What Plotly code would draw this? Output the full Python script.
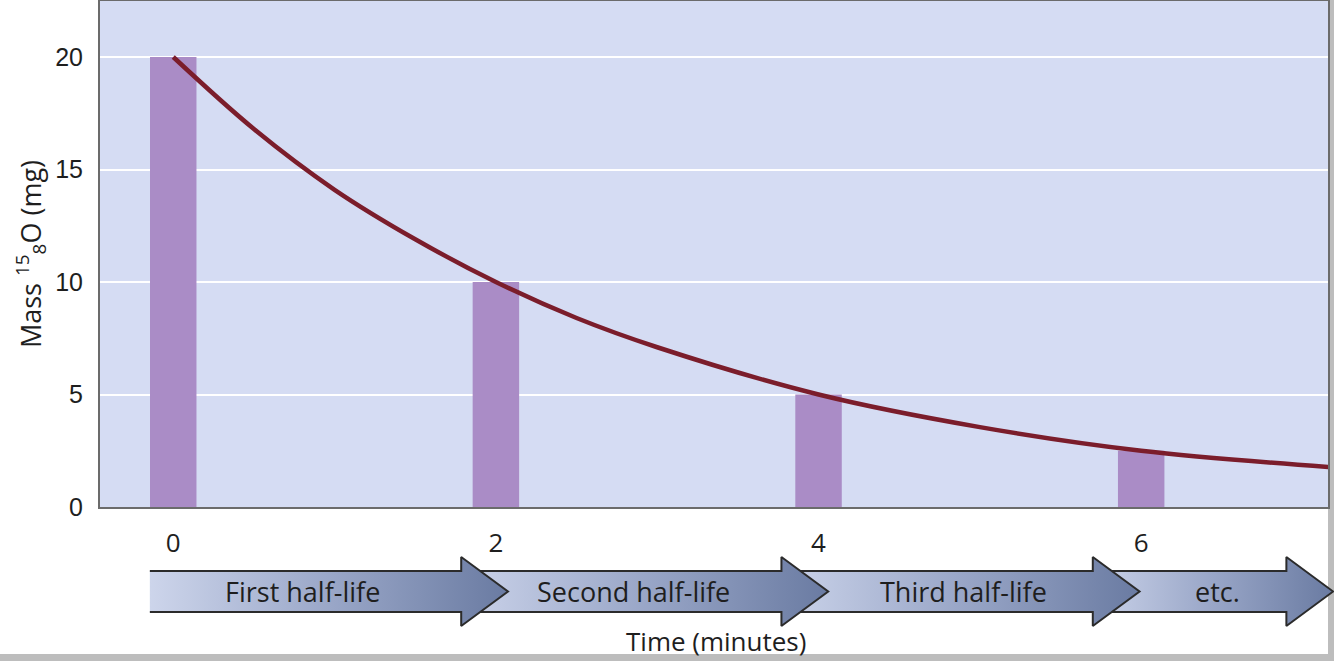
import plotly.graph_objects as go

# ---- data ----
bar_times = [0, 2, 4, 6]
bar_mass = [20, 10, 5, 2.5]
curve_times = [0, 0.5, 1, 1.5, 2, 2.5, 3, 4, 5, 6, 7.16]
curve_mass = [20, 16.8, 14.1, 11.9, 10, 8.4, 7.1, 5.0, 3.55, 2.5, 1.78]
y_ticks = [0, 5, 10, 15, 20]
x_ticks = [0, 2, 4, 6]
arrow_labels = ["First half-life", "Second half-life", "Third half-life", "etc."]
arrow_starts = [-0.145, 1.78, 3.76, 5.69]
arrow_tips = [2.075, 4.06, 5.99, 7.19]
label_centers = [0.8, 2.85, 4.9, 6.47]

W, H = 1334, 661
PLOT_L, PLOT_R, PLOT_T, PLOT_B = 100, 1328, 1, 507
XMIN, XMAX = -0.454, 7.158
X2MAX = XMIN + (XMAX - XMIN) * (W - PLOT_L) / (PLOT_R - PLOT_L)
TXT = "#1e1e1e"
FONT = "Open Sans"

fig = go.Figure()

# main plot background
fig.add_shape(type="rect", xref="x domain", yref="y domain", x0=0, x1=1, y0=0, y1=1,
              fillcolor="#d5dcf3", line=dict(width=0), layer="below")

fig.add_trace(go.Bar(x=bar_times, y=bar_mass, width=0.288,
                     marker=dict(color="#aa8cc6", line=dict(width=0)),
                     xaxis="x", yaxis="y", hoverinfo="skip"))
fig.add_trace(go.Scatter(x=curve_times, y=curve_mass, mode="lines",
                         line=dict(color="#7b1d2b", width=4.5, shape="spline", smoothing=1.0),
                         xaxis="x", yaxis="y", hoverinfo="skip"))

# arrows (in arrow subplot, y units = pixels from figure bottom)
yc = 69.5
body_h = 20.5
head_h = 34.5
head_len = 0.29
for i in reversed(range(len(arrow_labels))):
    s, tip = arrow_starts[i], arrow_tips[i]
    if i > 0:
        s = arrow_tips[i - 1] - 0.33
    base = tip - head_len
    xs = [s, base, base, tip, base, base, s, s]
    ys = [yc + body_h, yc + body_h, yc + head_h, yc, yc - head_h, yc - body_h, yc - body_h, yc + body_h]
    fig.add_trace(go.Scatter(
        x=xs, y=ys, mode="none", fill="toself",
        fillgradient=dict(type="horizontal",
                          colorscale=[[0, "#cdd5eb"], [0.5, "#9aa7c8"], [1, "#6a7ba2"]]),
        xaxis="x2", yaxis="y2", hoverinfo="skip"))
    fig.add_trace(go.Scatter(
        x=[s, base, base, tip, base, base, s],
        y=[yc + body_h, yc + body_h, yc + head_h, yc, yc - head_h, yc - body_h, yc - body_h],
        mode="lines", line=dict(color="#2b2b2b", width=2),
        xaxis="x2", yaxis="y2", hoverinfo="skip"))
    fig.add_annotation(x=label_centers[i], y=yc, xref="x2", yref="y2",
                       xanchor="center", yanchor="middle",
                       text=arrow_labels[i], showarrow=False,
                       font=dict(family=FONT, size=27, color=TXT))

fig.add_annotation(x=716 / W, y=(H - 641) / H, xref="paper", yref="paper",
                   xanchor="center", yanchor="middle",
                   text="Time (minutes)", showarrow=False,
                   font=dict(family=FONT, size=26, color=TXT))

# frame shadow (right and bottom)
fig.add_shape(type="rect", xref="paper", yref="paper", x0=0, x1=1,
              y0=0, y1=7 / H, fillcolor="#bdbdbd", line=dict(width=0), layer="below")
fig.add_shape(type="rect", xref="paper", yref="paper", x0=PLOT_R / W, x1=1,
              y0=0, y1=1, fillcolor="#bdbdbd", line=dict(width=0), layer="below")

fig.update_layout(
    width=W, height=H, template="none",
    margin=dict(l=0, r=0, t=0, b=0),
    paper_bgcolor="white", plot_bgcolor="rgba(0,0,0,0)",
    showlegend=False,
    xaxis=dict(domain=[PLOT_L / W, PLOT_R / W], range=[XMIN, XMAX],
               tickvals=x_ticks, ticks="outside", ticklen=12, tickcolor="rgba(0,0,0,0)",
               tickfont=dict(family=FONT, size=26, color=TXT),
               showgrid=False, zeroline=False, showline=True, mirror=True,
               linecolor="#6b6b6b", linewidth=2, automargin=False, anchor="y"),
    yaxis=dict(domain=[(H - PLOT_B) / H, (H - PLOT_T) / H], range=[0, 22.49],
               tickvals=y_ticks, ticks="outside", ticklen=10, tickcolor="rgba(0,0,0,0)",
               tickfont=dict(family="Liberation Sans", size=25, color=TXT),
               title=dict(text="Mass <sup>15</sup><sub>8</sub>O (mg)",
                          font=dict(family=FONT, size=27, color=TXT), standoff=6),
               showgrid=True, gridcolor="white", gridwidth=2, zeroline=False,
               showline=True, mirror=True, linecolor="#6b6b6b", linewidth=2,
               automargin=False, anchor="x"),
    xaxis2=dict(domain=[PLOT_L / W, 1], range=[XMIN, X2MAX], visible=False,
                anchor="y2", automargin=False),
    yaxis2=dict(domain=[0, 106 / H], range=[0, 106], visible=False,
                anchor="x2", automargin=False),
)

fig.write_html("out.html", config={"displayModeBar": False},
               post_script="document.body.style.margin='0';document.body.style.overflow='hidden';")
